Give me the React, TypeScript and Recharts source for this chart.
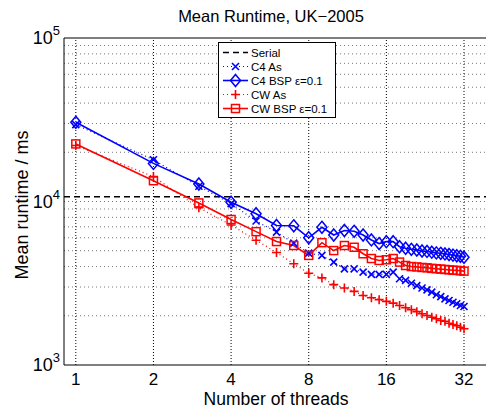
import { LineChart, Line, XAxis, YAxis, ReferenceLine } from "recharts"

const THREADS = [1, 2, 3, 4, 5, 6, 7, 8, 9, 10, 11, 12, 13, 14, 15, 16, 17, 18, 19, 20, 21, 22, 23, 24, 25, 26, 27, 28, 29, 30, 31, 32]

const C4_AS = [29500, 18000, 12400, 9700, 7600, 6500, 5560, 4830, 4680, 4260, 3870, 3870, 3700, 3580, 3580, 3580, 3700, 3370, 3290, 3160, 3060, 2960, 2880, 2790, 2690, 2620, 2540, 2480, 2420, 2370, 2310, 2280]
const C4_BSP = [30500, 17100, 12800, 9900, 8410, 7130, 7100, 6000, 6950, 6240, 6650, 6570, 6240, 5820, 5530, 5680, 5680, 5290, 5180, 5100, 5050, 4980, 4950, 4900, 4850, 4820, 4780, 4740, 4700, 4660, 4620, 4560]
const CW_AS = [22000, 14200, 9150, 7180, 5800, 4880, 4160, 3640, 3410, 3100, 2960, 2820, 2660, 2580, 2510, 2450, 2390, 2310, 2240, 2180, 2120, 2060, 2010, 1960, 1920, 1870, 1850, 1800, 1770, 1740, 1700, 1665]
const CW_BSP = [22500, 13400, 9800, 7760, 6540, 5690, 5380, 4680, 5600, 5010, 5380, 5250, 4790, 4480, 4360, 4400, 4480, 4260, 4060, 4000, 3980, 3950, 3930, 3900, 3880, 3860, 3840, 3820, 3800, 3790, 3770, 3750]

const SERIAL = 10700

const X_TICKS = [1, 2, 4, 8, 16, 32]
const Y_TICKS = [1000, 10000, 100000]
const Y_GRID = [2000, 3000, 4000, 5000, 6000, 7000, 8000, 9000, 10000, 20000, 30000, 40000, 50000, 60000, 70000, 80000, 90000]

const data = THREADS.map((n, i) => ({
  n,
  c4As: C4_AS[i],
  c4Bsp: C4_BSP[i],
  cwAs: CW_AS[i],
  cwBsp: CW_BSP[i],
}))

const BLUE = "#0000ff"
const RED = "#ff0000"
const FONT = "'Liberation Sans', Arial, Helvetica, sans-serif"

type Marker = "x" | "diamond" | "plus" | "square"

function drawMarker(kind: Marker, cx: number, cy: number, color: string, key?: string | number) {
  if (kind === "x") {
    const s = 3.5
    return (
      <path key={key} d={`M${cx - s},${cy - s}L${cx + s},${cy + s}M${cx - s},${cy + s}L${cx + s},${cy - s}`} stroke={color} strokeWidth={1.6} fill="none" />
    )
  }
  if (kind === "plus") {
    const s = 4.5
    return (
      <path key={key} d={`M${cx - s},${cy}L${cx + s},${cy}M${cx},${cy - s}L${cx},${cy + s}`} stroke={color} strokeWidth={1.6} fill="none" />
    )
  }
  if (kind === "diamond") {
    const s = 6
    return (
      <path key={key} d={`M${cx},${cy - s}L${cx + s - 1},${cy}L${cx},${cy + s}L${cx - s + 1},${cy}Z`} stroke={color} strokeWidth={1.5} fill="none" />
    )
  }
  return <rect key={key} x={cx - 4} y={cy - 4} width={8} height={8} stroke={color} strokeWidth={1.5} fill="none" />
}

const dotFor = (kind: Marker, color: string) => (props: any) => {
  const { cx, cy, index } = props
  if (cx == null || cy == null) return <g key={index} />
  return drawMarker(kind, cx, cy, color, index)
}

const SERIES = [
  { name: "Serial", color: "#000", marker: null as Marker | null, dash: "6 4", width: 1.5 },
  { name: "C4 As", color: BLUE, marker: "x" as Marker, dash: "1 3", width: 1.2 },
  { name: "C4 BSP ε=0.1", color: BLUE, marker: "diamond" as Marker, dash: undefined, width: 1.6 },
  { name: "CW As", color: RED, marker: "plus" as Marker, dash: "1 3", width: 1.2 },
  { name: "CW BSP ε=0.1", color: RED, marker: "square" as Marker, dash: undefined, width: 1.6 },
]

function LegendBox() {
  return (
    <svg width={118} height={76} style={{ display: "block" }}>
      <rect x={0.5} y={0.5} width={117} height={75} fill="#fff" stroke="#000" strokeWidth={1} />
      {SERIES.map((s, i) => {
        const y = 10.5 + i * 14
        return (
          <g key={s.name}>
            <line x1={5} x2={30} y1={y} y2={y} stroke={s.color} strokeWidth={s.width} strokeDasharray={s.dash} />
            {s.marker && drawMarker(s.marker, 17.5, y, s.color)}
            <text x={33} y={y + 4} fontSize={11.5} fontFamily={FONT} fill="#000">
              {s.name}
            </text>
          </g>
        )
      })}
    </svg>
  )
}

function YTick(props: any) {
  const { y, payload } = props
  const exp = Math.round(Math.log10(payload.value))
  return (
    <text x={60} y={y + 6} textAnchor="end" fontSize={18} fontFamily={FONT} fill="#000">
      10
      <tspan dy={-9} fontSize={13}>
        {exp}
      </tspan>
    </text>
  )
}

function XTick(props: any) {
  const { x, payload } = props
  return (
    <text x={x} y={385} textAnchor="middle" fontSize={17} fontFamily={FONT} fill="#000">
      {payload.value}
    </text>
  )
}

export default function App() {
  return (
    <div style={{ position: "absolute", left: 0, top: 0, width: 486, height: 412, overflow: "hidden", background: "#fff" }}>
      <LineChart width={495} height={412} data={data} margin={{ top: 38, right: 6, bottom: 0, left: 0 }}>
        <text x={271} y={22} textAnchor="middle" fontSize={16.5} fontFamily={FONT} fill="#000">
          Mean Runtime, UK−2005
        </text>
        <text x={28} y={205} transform="rotate(-90 28 205)" textAnchor="middle" fontSize={18} fontFamily={FONT} fill="#000">
          Mean runtime / ms
        </text>
        <text x={276} y={405} textAnchor="middle" fontSize={17.5} fontFamily={FONT} fill="#000">
          Number of threads
        </text>
        <XAxis
          dataKey="n"
          type="number"
          scale="log"
          domain={[0.9, 40]}
          ticks={X_TICKS}
          allowDataOverflow
          height={47}
          tickLine={false}
          axisLine={{ stroke: "#000", strokeWidth: 1 }}
          tick={<XTick />}
          interval={0}
        />
        <YAxis
          type="number"
          scale="log"
          domain={[1000, 100000]}
          ticks={Y_TICKS}
          allowDataOverflow
          width={64}
          tickLine={false}
          axisLine={{ stroke: "#000", strokeWidth: 1 }}
          tick={<YTick />}
          interval={0}
        />
        {Y_GRID.map((v) => (
          <ReferenceLine key={`gy${v}`} y={v} stroke="#777" strokeWidth={1} strokeDasharray="1 3" />
        ))}
        {X_TICKS.map((v) => (
          <ReferenceLine key={`gx${v}`} x={v} stroke="#000" strokeWidth={1} strokeDasharray="1 2" />
        ))}
        <ReferenceLine y={100000} stroke="#000" strokeWidth={1} />
        <ReferenceLine y={SERIAL} stroke="#000" strokeWidth={1.5} strokeDasharray="6 4" />
        <Line dataKey="c4As" stroke={BLUE} strokeWidth={1.2} strokeDasharray="1 3" dot={dotFor("x", BLUE)} isAnimationActive={false} />
        <Line dataKey="cwAs" stroke={RED} strokeWidth={1.2} strokeDasharray="1 3" dot={dotFor("plus", RED)} isAnimationActive={false} />
        <Line dataKey="c4Bsp" stroke={BLUE} strokeWidth={1.6} dot={dotFor("diamond", BLUE)} isAnimationActive={false} />
        <Line dataKey="cwBsp" stroke={RED} strokeWidth={1.6} dot={dotFor("square", RED)} isAnimationActive={false} />
      </LineChart>
      <div style={{ position: "absolute", left: 218, top: 42 }}>
        <LegendBox />
      </div>
    </div>
  )
}
